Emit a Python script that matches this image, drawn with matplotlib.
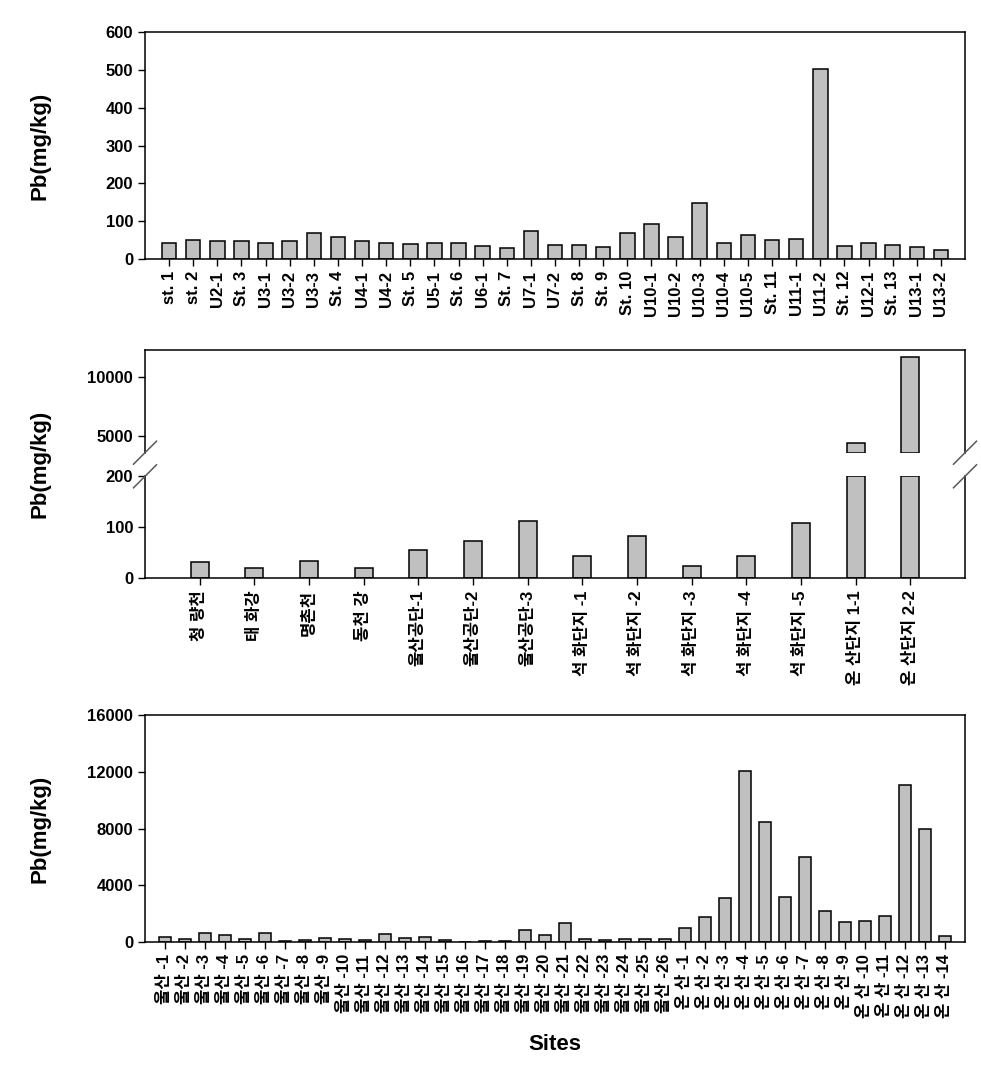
import matplotlib.pyplot as plt

plt.rcParams['font.family'] = ['Liberation Sans', 'Noto Sans CJK KR', 'DejaVu Sans']
plt.rcParams['font.weight'] = 'bold'

# --- data ---
top_sites = ['st. 1', 'st. 2', 'U2-1', 'St. 3', 'U3-1', 'U3-2', 'U3-3', 'St. 4', 'U4-1', 'U4-2',
             'St. 5', 'U5-1', 'St. 6', 'U6-1', 'St. 7', 'U7-1', 'U7-2', 'St. 8', 'St. 9', 'St. 10',
             'U10-1', 'U10-2', 'U10-3', 'U10-4', 'U10-5', 'St. 11', 'U11-1', 'U11-2', 'St. 12',
             'U12-1', 'St. 13', 'U13-1', 'U13-2']
top_pb = [42, 50, 47, 47, 42, 47, 68, 58, 47, 42, 39, 42, 42, 34, 28, 74, 36, 36, 31, 68,
          92, 58, 148, 42, 63, 50, 52, 503, 34, 42, 36, 31, 23]

mid_sites = ['청 량천', '태 화강', '명촌천', '동천 강', '울산공단-1', '울산공단-2', '울산공단-3',
             '석 화단지 -1', '석 화단지 -2', '석 화단지 -3', '석 화단지 -4', '석 화단지 -5',
             '온 산단지 1-1', '온 산단지 2-2']
mid_pb = [31, 20, 33, 20, 55, 74, 112, 43, 82, 25, 43, 108, 4350, 11700]

bot_sites = ['울산 -%d' % i for i in range(1, 27)] + ['온 산 -%d' % i for i in range(1, 15)]
bot_pb = [350, 210, 630, 490, 210, 630, 70, 140, 280, 210, 140, 560, 280, 350, 140, 10, 70, 70,
          840, 490, 1330, 210, 140, 210, 210, 210,
          980, 1750, 3090, 12070, 8490, 3160, 5970, 2180, 1400, 1470, 1830, 11090, 8000, 420]

bar_color = '#c0c0c0'
W, H = 981, 1065


def box(x0, y0, x1, y1):
    return [x0 / W, 1 - y1 / H, (x1 - x0) / W, (y1 - y0) / H]


def style(ax):
    for s in ax.spines.values():
        s.set_linewidth(1.1)
    ax.tick_params(direction='out', length=5, width=1, labelsize=12)


fig = plt.figure(figsize=(9.81, 10.65), dpi=100)

# top panel
ax1 = fig.add_axes(box(145, 32, 965, 259))
x1 = range(1, len(top_sites) + 1)
ax1.bar(x1, top_pb, width=0.6, color=bar_color, edgecolor='black', linewidth=1.1)
ax1.set_xlim(0, len(top_sites) + 1)
ax1.set_ylim(0, 600)
ax1.set_yticks(range(0, 601, 100))
ax1.set_xticks(list(x1))
ax1.set_xticklabels(top_sites, rotation=90, fontsize=10.5)
style(ax1)

# middle panel (broken y axis)
low_top, up_bot, up_top = 200, 3550, 12300
ax2u = fig.add_axes(box(145, 350, 965, 452.7))
ax2l = fig.add_axes(box(145, 476.3, 965, 578.3))
x2 = list(range(1, len(mid_sites) + 1))
ax2l.bar(x2, [min(v, low_top) for v in mid_pb], width=0.33, color=bar_color,
         edgecolor='black', linewidth=1.1)
big = [(x, v) for x, v in zip(x2, mid_pb) if v > low_top]
ax2u.bar([b[0] for b in big], [b[1] - up_bot for b in big], bottom=up_bot, width=0.33,
         color=bar_color, edgecolor='black', linewidth=1.1)
for ax in (ax2u, ax2l):
    ax.set_xlim(0, len(mid_sites) + 1)
    style(ax)
ax2l.set_ylim(0, low_top)
ax2l.set_yticks([0, 100, 200])
ax2u.set_ylim(up_bot, up_top)
ax2u.set_yticks([5000, 10000])
ax2u.spines['bottom'].set_visible(False)
ax2l.spines['top'].set_visible(False)
ax2u.set_xticks([])
ax2l.set_xticks(x2)
ax2l.set_xticklabels(mid_sites, rotation=90, fontsize=12)

# break marks
for yp in (452.7, 476.3):
    for xp in (145, 965):
        fig.add_artist(plt.Line2D([(xp - 11.5) / W, (xp + 11.5) / W],
                                  [1 - (yp + 11.5) / H, 1 - (yp - 11.5) / H],
                                  color='0.35', linewidth=1.1))

# bottom panel
ax3 = fig.add_axes(box(145, 715, 965, 942.3))
x3 = range(1, len(bot_sites) + 1)
ax3.bar(x3, bot_pb, width=0.62, color=bar_color, edgecolor='black', linewidth=1.1)
ax3.set_xlim(0, len(bot_sites) + 1)
ax3.set_ylim(0, 16000)
ax3.set_yticks(range(0, 16001, 4000))
ax3.set_xticks(list(x3))
ax3.set_xticklabels(bot_sites, rotation=90, fontsize=10)
style(ax3)

for yc in ((32 + 259) / 2, (350 + 578) / 2, (715 + 942) / 2):
    fig.text(40 / W, 1 - yc / H, 'Pb(mg/kg)', rotation=90, ha='center', va='center',
             fontsize=16, fontweight='bold')
fig.text(555 / W, 1 - 1045 / H, 'Sites', ha='center', va='center', fontsize=16,
         fontweight='bold')

plt.savefig('out.png', dpi=100)
